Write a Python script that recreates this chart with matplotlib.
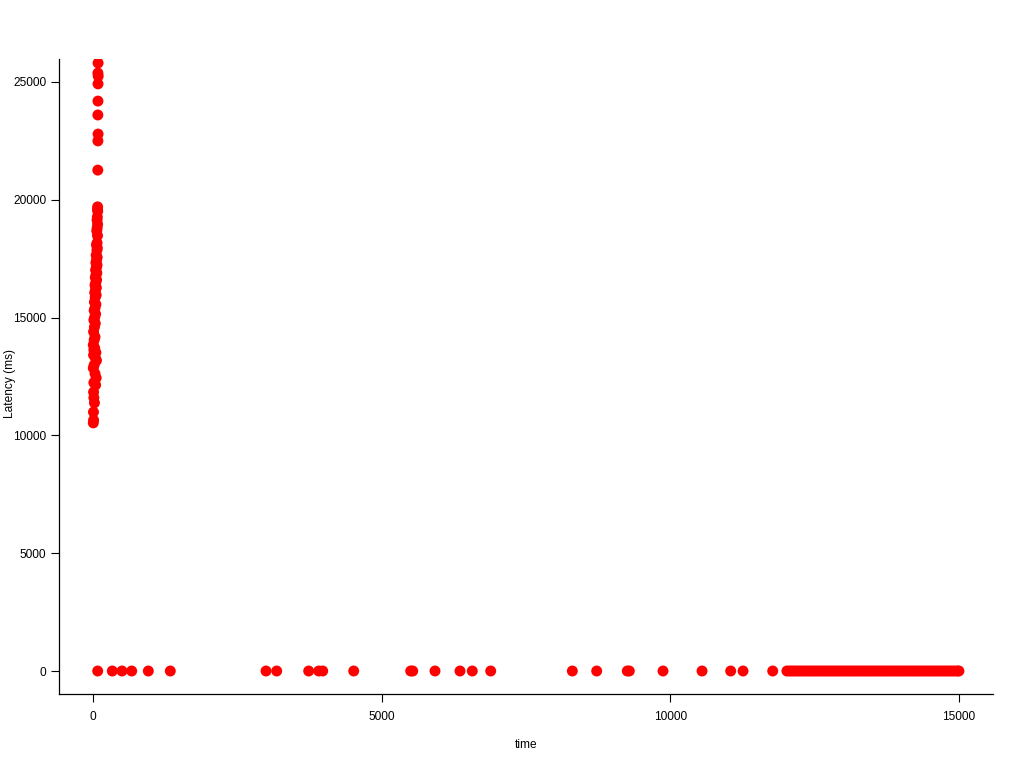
import matplotlib
matplotlib.use('Agg')
import matplotlib.pyplot as plt

plt.rcParams['font.family'] = ['Liberation Sans', 'DejaVu Sans']

# early burst: high latencies at the very start of the run
burst_time = [88, 85, 90, 87, 86, 84, 88, 85, 83, 80,
              78, 82, 75, 70, 80, 72, 65, 78, 70, 60,
              75, 68, 55, 72, 62, 50, 70, 58, 45, 66,
              52, 40, 62, 48, 35, 58, 42, 30, 55, 38,
              25, 50, 35, 20, 45, 30, 15, 40, 25, 10,
              35, 20, 5, 30, 15, 50, 10, 40, 60, 20,
              5, 35, 55, 15, 45, 10, 25, 8]
burst_latency = [25806, 25380, 25250, 24920, 24190, 23600, 22790, 22500, 21260, 19700,
                 19600, 19520, 19270, 19140, 18960, 18800, 18680, 18480, 18170, 18080,
                 17960, 17860, 17650, 17560, 17450, 17330, 17230, 17120, 17020, 16900,
                 16810, 16700, 16600, 16480, 16380, 16270, 16170, 16060, 15960, 15860,
                 15660, 15560, 15410, 15300, 15150, 15020, 14900, 14750, 14600, 14400,
                 14180, 14050, 13840, 13700, 13630, 13520, 13410, 13300, 13180, 12990,
                 12860, 12620, 12440, 12240, 12140, 11840, 11380, 10990]
tail_time = [10, 5, 15]
tail_latency = [10650, 10530, 11600]

# sparse requests with near-zero latency
sparse_time = [81, 334, 502, 670, 958, 1339, 2997, 3182, 3736, 3910,
               3979, 4516, 5503, 5538, 5924, 6357, 6570, 6889, 8303, 8725,
               9255, 9290, 9874, 10550, 11046, 11260, 11774]
# dense steady-state period
dense_time = [12020, 12060, 12100, 12140, 12180, 12220, 12260, 12300, 12340, 12380,
              12420, 12460, 12500, 12540, 12580, 12620, 12660, 12700, 12740, 12780,
              12820, 12860, 12900, 12940, 12980, 13020, 13060, 13100, 13140, 13180,
              13220, 13260, 13300, 13340, 13380, 13420, 13460, 13500, 13540, 13580,
              13620, 13660, 13700, 13740, 13780, 13820, 13860, 13900, 13940, 13980,
              14020, 14060, 14100, 14140, 14180, 14220, 14260, 14300, 14340, 14380,
              14420, 14460, 14500, 14540, 14580, 14620, 14660, 14700, 14740, 14780,
              14820, 14860, 14900, 14940, 14980, 15000]

times = burst_time + tail_time + sparse_time + dense_time
latency = burst_latency + tail_latency + [0] * (len(sparse_time) + len(dense_time))

fig = plt.figure(figsize=(10.24, 7.68), dpi=100)
ax = fig.add_axes([59 / 1024, 1 - 694 / 768, (993 - 59) / 1024, (694 - 59) / 768])

ax.scatter(times, latency, s=62, color='#ff0000', edgecolors='none', zorder=3)

ax.set_xlim(-589, 15590)
ax.set_ylim(-976, 25976)
ax.set_xticks([0, 5000, 10000, 15000])
ax.set_yticks([0, 5000, 10000, 15000, 20000, 25000])
ax.tick_params(direction='out', length=5.5, width=0.8, labelsize=8.6, colors='black')
ax.tick_params(axis='x', pad=7)
ax.tick_params(axis='y', pad=3.6)

for side in ['top', 'right']:
    ax.spines[side].set_visible(False)
for side in ['left', 'bottom']:
    ax.spines[side].set_linewidth(0.9)

fig.text(526 / 1024, 1 - 745 / 768, 'time', fontsize=8.6, ha='center', va='center')
fig.text(10 / 1024, 0.5, 'Latency (ms)', fontsize=8.6, ha='center', va='center',
         rotation=90)

fig.savefig('out.png', dpi=100)
